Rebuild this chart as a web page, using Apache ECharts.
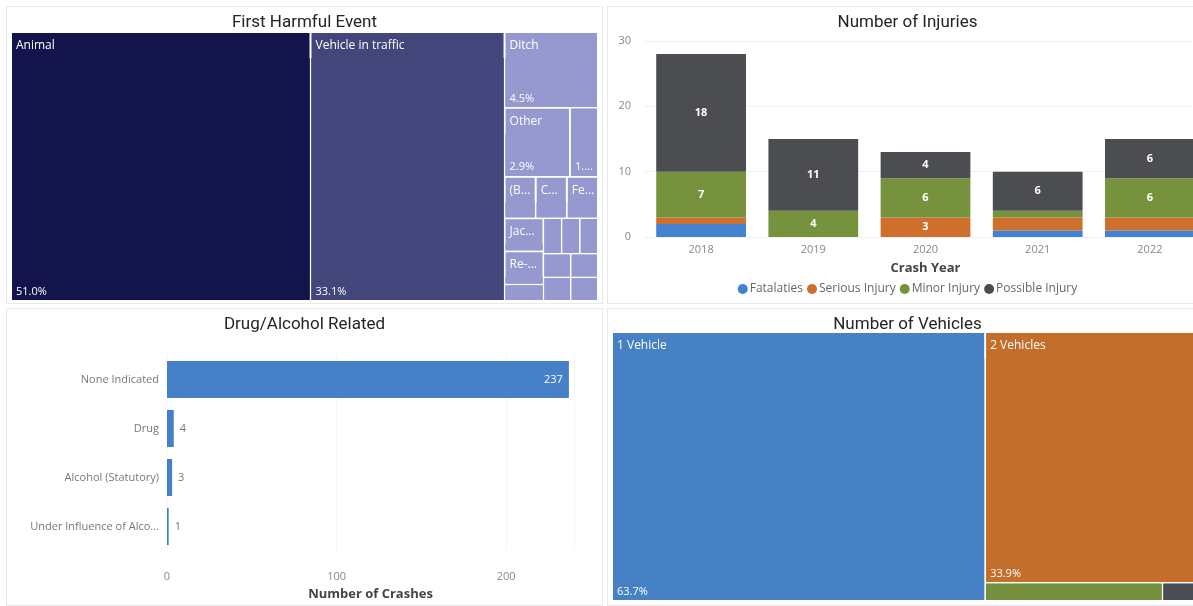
<!DOCTYPE html>
<html>
<head>
<meta charset="utf-8">
<script src="https://cdn.jsdelivr.net/npm/echarts@6/dist/echarts.min.js"></script>
<style>
    html, body { margin: 0; padding: 0; background: #fff; width: 1193px; height: 606px; overflow: hidden; }
    .panel { position: absolute; border: 1px solid #e8e8e8; background: #fff; box-sizing: border-box; }
    #chart1 { left: 6px; top: 6px; width: 597px; height: 298px; }
    #chart2 { left: 607px; top: 6px; width: 601px; height: 298px; }
    #chart3 { left: 6px; top: 308px; width: 597px; height: 298px; }
    #chart4 { left: 607px; top: 308px; width: 601px; height: 298px; }
</style>
</head>
<body>
<div id="chart1" class="panel"></div>
<div id="chart2" class="panel"></div>
<div id="chart3" class="panel"></div>
<div id="chart4" class="panel"></div>
<script>
// first harmful event (crash counts)
const eventNames = ['Animal', 'Vehicle in traffic', 'Ditch', 'Other', 'Tree', '(Blank)', 'Culvert', 'Fence',
    'Jackknife', 'Re-entering roadway', 'Utility pole', 'Guardrail', 'Sign post', 'Embankment',
    'Overturn', 'Mailbox', 'Bridge rail', 'Parked vehicle'];
const eventCounts = [125, 81, 11, 7, 3, 2, 2, 2, 2, 2, 1, 1, 1, 1, 1, 1, 1, 1];
const eventColors = ['#14144d', '#43467a', '#9698d0'];
const eventNoName = ['Tree'];

// injuries by year
const years = ['2018', '2019', '2020', '2021', '2022'];
const fatalities = [2, 0, 0, 1, 1];
const serious = [1, 0, 3, 2, 2];
const minor = [7, 4, 6, 1, 6];
const possible = [18, 11, 4, 6, 6];

// drug / alcohol
const drugCats = ['None Indicated', 'Drug', 'Alcohol (Statutory)', 'Under Influence of Alcohol'];
const drugCounts = [237, 4, 3, 1];

// number of vehicles
const vehNames = ['1 Vehicle', '2 Vehicles', '3 Vehicles', '4 or More Vehicles'];
const vehCounts = [156, 83, 5, 1];
const vehColors = ['#4680c5', '#c46e2c', '#76913e', '#4b4d55'];

const titleFont = 'Roboto, "Noto Sans", sans-serif';
const bodyFont = '"Open Sans", "Noto Sans", sans-serif';

// each box is a parent (name in its header) holding one child (percent at the bottom)
function treeData(names, counts, colorOf, minName, minPct, noName) {
    let total = counts.reduce((a, b) => a + b, 0);
    return names.map(function (n, i) {
        let c = colorOf(i);
        return {
            name: n,
            value: counts[i],
            itemStyle: { color: c, borderColor: c },
            upperLabel: { show: counts[i] >= minName && noName.indexOf(n) < 0 },
            children: [{
                name: (counts[i] / total * 100).toFixed(1) + '%',
                value: counts[i],
                itemStyle: { color: c, borderColor: c },
                label: { show: counts[i] >= minPct }
            }]
        };
    });
}

function treeSeries(data, box) {
    return {
        type: 'treemap',
        left: box.left, top: box.top, width: box.width, height: box.height,
        roam: false,
        nodeClick: false,
        animation: false,
        sort: false,
        breadcrumb: { show: false },
        visibleMin: 0,
        label: {
            show: true,
            position: 'insideBottomLeft',
            distance: 0,
            padding: [2, 0, 3, 4],
            color: '#fff',
            fontSize: 11,
            fontFamily: bodyFont,
            overflow: 'truncate',
            ellipsis: '...'
        },
        upperLabel: {
            show: true,
            height: 25,
            color: '#fff',
            fontSize: 12,
            fontFamily: bodyFont,
            padding: [0, 0, 0, 4],
            overflow: 'truncate',
            ellipsis: '...'
        },
        levels: [
            { itemStyle: { borderWidth: 0, gapWidth: 2, borderColor: '#fff' }, upperLabel: { show: false } },
            { itemStyle: { borderWidth: 0, gapWidth: 0 } },
            { itemStyle: { borderWidth: 0, gapWidth: 0 } }
        ],
        data: data
    };
}

let dom1 = document.getElementById("chart1");
let Chart1 = echarts.init(dom1);
let option1 = {
    animation: false,
    title: {
        text: 'First Harmful Event',
        left: 'center',
        top: 2,
        textStyle: { fontFamily: titleFont, fontSize: 17, fontWeight: 'normal', color: '#252423' }
    },
    series: [
        treeSeries(
            treeData(eventNames, eventCounts, i => eventColors[Math.min(i, 2)], 2, 3, eventNoName),
            { left: 5, top: 26, width: 585, height: 267 }
        )
    ]
};
Chart1.setOption(option1);

let dom2 = document.getElementById("chart2");
let Chart2 = echarts.init(dom2);
function injurySeries(name, data, color) {
    return {
        name: name,
        type: 'bar',
        stack: 'total',
        barWidth: '80%',
        data: data,
        itemStyle: { color: color },
        label: {
            show: true,
            position: 'inside',
            color: '#fff',
            fontSize: 11,
            fontWeight: 'bold',
            fontFamily: bodyFont,
            formatter: p => (p.value >= 3 ? p.value : '')
        }
    };
}
let option2 = {
    animation: false,
    title: {
        text: 'Number of Injuries',
        left: 'center',
        top: 2,
        textStyle: { fontFamily: titleFont, fontSize: 17, fontWeight: 'normal', color: '#252423' }
    },
    legend: {
        data: ['Fatalaties', 'Serious Injury', 'Minor Injury', 'Possible Injury'],
        left: 'center',
        top: 271,
        icon: 'circle',
        itemWidth: 10,
        itemHeight: 10,
        itemGap: 4,
        textStyle: { fontFamily: bodyFont, fontSize: 12, color: '#666', padding: [0, 0, 0, -3] }
    },
    grid: { left: 37, top: 34, width: 561, height: 196, outerBoundsMode: 'none' },
    xAxis: {
        type: 'category',
        data: years,
        name: 'Crash Year',
        nameLocation: 'middle',
        nameGap: 25,
        nameTextStyle: { fontFamily: bodyFont, fontSize: 13, color: '#444', fontWeight: 'bold' },
        axisLine: { show: false },
        axisTick: { show: false },
        axisLabel: { fontFamily: bodyFont, fontSize: 11, color: '#888', margin: 7 }
    },
    yAxis: {
        type: 'value',
        min: 0,
        max: 30,
        interval: 10,
        name: 'Number of People',
        nameLocation: 'middle',
        nameGap: 23,
        nameTextStyle: { fontFamily: bodyFont, fontSize: 13, color: '#555' },
        axisLabel: { fontFamily: bodyFont, fontSize: 11, color: '#888', margin: 14 },
        splitLine: { lineStyle: { color: '#e3e3e3', type: 'dotted' } }
    },
    series: [
        injurySeries('Fatalaties', fatalities, '#4282d0'),
        injurySeries('Serious Injury', serious, '#cf6f2c'),
        injurySeries('Minor Injury', minor, '#77923d'),
        injurySeries('Possible Injury', possible, '#4c4d51')
    ]
};
Chart2.setOption(option2);

let dom3 = document.getElementById("chart3");
let Chart3 = echarts.init(dom3);
let option3 = {
    animation: false,
    title: {
        text: 'Drug/Alcohol Related',
        left: 'center',
        top: 2,
        textStyle: { fontFamily: titleFont, fontSize: 17, fontWeight: 'normal', color: '#252423' }
    },
    grid: { left: 160, top: 46, width: 407, height: 196, outerBoundsMode: 'none' },
    xAxis: {
        type: 'value',
        min: 0,
        max: 240,
        interval: 100,
        name: 'Number of Crashes',
        nameLocation: 'middle',
        nameGap: 37,
        nameTextStyle: { fontFamily: bodyFont, fontSize: 13, color: '#444', fontWeight: 'bold' },
        axisLabel: { fontFamily: bodyFont, fontSize: 11, color: '#888', margin: 20, showMaxLabel: false },
        splitLine: { lineStyle: { color: '#ececec', type: 'dotted' } }
    },
    yAxis: {
        type: 'category',
        data: drugCats,
        inverse: true,
        axisLine: { show: false },
        axisTick: { show: false },
        axisLabel: {
            fontFamily: bodyFont, fontSize: 11, color: '#777', margin: 8,
            width: 132, overflow: 'truncate', ellipsis: '...'
        }
    },
    series: [{
        type: 'bar',
        barWidth: 37,
        itemStyle: { color: '#4680c8' },
        data: drugCounts.map(v => ({
            value: v,
            label: v > 100
                ? { show: true, position: 'insideRight', color: '#fff' }
                : { show: true, position: 'right', color: '#777' }
        })),
        label: { fontFamily: bodyFont, fontSize: 11, distance: 6 }
    }]
};
Chart3.setOption(option3);

let dom4 = document.getElementById("chart4");
let Chart4 = echarts.init(dom4);
let option4 = {
    animation: false,
    title: {
        text: 'Number of Vehicles',
        left: 'center',
        top: 2,
        textStyle: { fontFamily: titleFont, fontSize: 17, fontWeight: 'normal', color: '#252423' }
    },
    series: [
        treeSeries(
            treeData(vehNames, vehCounts, i => vehColors[i], 20, 20, []),
            { left: 5, top: 24, width: 584, height: 267 }
        )
    ]
};
Chart4.setOption(option4);
</script>
</body>
</html>
